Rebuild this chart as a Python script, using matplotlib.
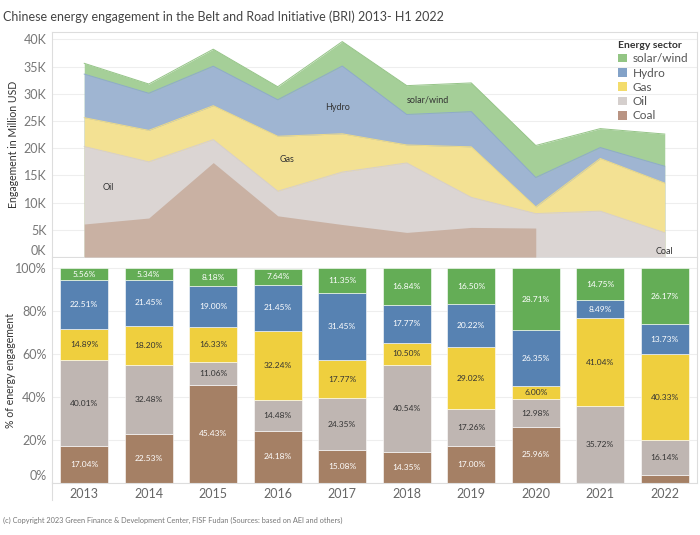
import numpy as np
import matplotlib
matplotlib.use('Agg')
import matplotlib.pyplot as plt
from matplotlib.patches import Patch
from matplotlib.lines import Line2D

plt.rcParams['font.family'] = ['Lato', 'DejaVu Sans']

years = [2013, 2014, 2015, 2016, 2017, 2018, 2019, 2020, 2021, 2022]
# total engagement per year, thousand million USD
totals_k = [35.6, 31.8, 38.2, 31.3, 39.6, 31.5, 32.0, 20.5, 23.6, 22.6]

# shares in % (bottom chart labels)
solar_wind = [5.56, 5.34, 8.18, 7.64, 11.35, 16.84, 16.50, 28.71, 14.75, 26.17]
hydro = [22.51, 21.45, 19.00, 21.45, 31.45, 17.77, 20.22, 26.35, 8.49, 13.73]
gas = [14.89, 18.20, 16.33, 32.24, 17.77, 10.50, 29.02, 6.00, 41.04, 40.33]
oil = [40.01, 32.48, 11.06, 14.48, 24.35, 40.54, 17.26, 12.98, 35.72, 16.14]
coal = [17.04, 22.53, 45.43, 24.18, 15.08, 14.35, 17.00, 25.96, 0.0, 3.63]

sectors = ['Coal', 'Oil', 'Gas', 'Hydro', 'solar/wind']
shares = [coal, oil, gas, hydro, solar_wind]

area_cols = ['#c9b1a3', '#dbd5d3', '#f3e193', '#9fb5d2', '#a5cf98']
line_cols = ['#bfa698', '#d6cfcc', '#eedb86', '#8eaacb', '#95c487']
bar_cols = ['#a58065', '#bfb6b2', '#efcf3e', '#5782b2', '#64ad56']
legend_cols = ['#b99483', '#d5cfcd', '#f3dc6c', '#83a2c8', '#93c584']
label_cols = ['white', '#333333', '#333333', 'white', 'white']

x = np.array(years, dtype=float)
tot = np.array(totals_k)
pct = np.array(shares)
absval = pct / 100.0 * tot
cum = np.cumsum(absval, axis=0)

fig = plt.figure(figsize=(7, 5.35), dpi=100)
W, H = 700, 535
ax1 = fig.add_axes([52 / W, 1 - 257 / H, 645 / W, 225 / H])
ax2 = fig.add_axes([52 / W, 1 - 482.5 / H, 645 / W, 224.5 / H])

grid_c = '#eeeeee'
spine_c = '#dddddd'
tick_c = '#777777'

# ---- top: stacked areas (drawn from top layer down)
for i in range(4, 0, -1):
    ax1.fill_between(x, 0, cum[i], color=area_cols[i], lw=0, zorder=2)
    ax1.plot(x, cum[i], color=line_cols[i], lw=0.7, zorder=3)
# coal stops after 2020
m = x <= 2020
ax1.fill_between(x[m], 0, cum[0][m], color=area_cols[0], lw=0, zorder=4)

ax1.set_xlim(2012.5, 2022.5)
ax1.set_ylim(0, 41.36)
ax1.set_yticks(np.arange(0, 45, 5))
ax1.set_yticklabels([f'{v}K' for v in range(0, 45, 5)])
ax1.yaxis.get_majorticklabels()[0].set_va('bottom')
ax1.set_xticks([])
ax1.grid(axis='y', color=grid_c, lw=0.8, zorder=0)
ax1.set_axisbelow(True)
ax1.tick_params(axis='y', length=0, labelsize=9, labelcolor=tick_c, pad=4)
ax1.set_ylabel('Engagement in Million USD', fontsize=7.6, color='#333333')
ax1.yaxis.set_label_coords((19 - 52) / 645, 0.5)
for s in ax1.spines.values():
    s.set_color(spine_c)
    s.set_linewidth(0.8)

area_labels = [('Oil', 2013.37, 12.7), ('Gas', 2016.14, 18.0), ('Hydro', 2016.93, 27.4),
               ('solar/wind', 2018.33, 28.9), ('Coal', 2022.0, 1.1)]
for t, xx, yy in area_labels:
    ax1.text(xx, yy, t, fontsize=6.5, color='#333333', ha='center', va='center', zorder=6)

handles = [Patch(facecolor=legend_cols[i], edgecolor='none') for i in range(4, -1, -1)]
labels = [sectors[i] for i in range(4, -1, -1)]
leg = ax1.legend(handles, labels, title='Energy sector', loc='upper left',
                 bbox_to_anchor=(612 / W, 1 - 35 / H), bbox_transform=fig.transFigure,
                 frameon=False, fontsize=8.5, labelcolor='#555555',
                 title_fontproperties={'weight': 'bold', 'size': 7.5},
                 handlelength=0.75, handleheight=0.75, handletextpad=0.5,
                 labelspacing=0.28, borderpad=0, alignment='left')
leg.get_title().set_color('#333333')
leg.set_zorder(10)

# ---- bottom: 100% stacked bars
bottom = np.zeros(len(years))
for i in range(5):
    ax2.bar(x, pct[i], 0.745, bottom=bottom, color=bar_cols[i],
            edgecolor='white', linewidth=0.4, zorder=2)
    for j in range(len(years)):
        if pct[i][j] > 4:
            ax2.text(x[j], bottom[j] + pct[i][j] / 2, f'{pct[i][j]:.2f}%',
                     ha='center', va='center', fontsize=6, color=label_cols[i], zorder=3)
    bottom = bottom + pct[i]

ax2.set_xlim(2012.5, 2022.5)
ax2.set_ylim(0, 104.9)
ax2.set_yticks(np.arange(0, 101, 20))
ax2.set_yticklabels([f'{v}%' for v in range(0, 101, 20)])
ax2.yaxis.get_majorticklabels()[0].set_va('bottom')
ax2.set_xticks(years)
ax2.set_xticklabels([str(y) for y in years])
ax2.grid(axis='y', color=grid_c, lw=0.8, zorder=0)
ax2.set_axisbelow(True)
ax2.tick_params(axis='y', length=0, labelsize=9, labelcolor=tick_c, pad=4)
ax2.tick_params(axis='x', length=0, labelsize=9, labelcolor='#666666', pad=4)
ax2.set_ylabel('% of energy engagement', fontsize=7.6, color='#333333')
ax2.yaxis.set_label_coords((16 - 52) / 645, 0.5)
for s in ax2.spines.values():
    s.set_color(spine_c)
    s.set_linewidth(0.8)
ax2.spines['top'].set_visible(False)

fig.add_artist(Line2D([52 / W, 52 / W], [1 - 500 / H, 1 - 482 / H], color=spine_c, lw=0.8))

fig.text(3 / W, 1 - 17 / H,
         'Chinese energy engagement in the Belt and Road Initiative (BRI) 2013- H1 2022',
         fontsize=9, color='#444444', va='center', ha='left')
fig.text(3 / W, 1 - 520 / H,
         '(c) Copyright 2023 Green Finance & Development Center, FISF Fudan (Sources: based on AEI and others)',
         fontsize=5.3, color='#777777', va='center', ha='left')

fig.savefig('out.png', dpi=100)
